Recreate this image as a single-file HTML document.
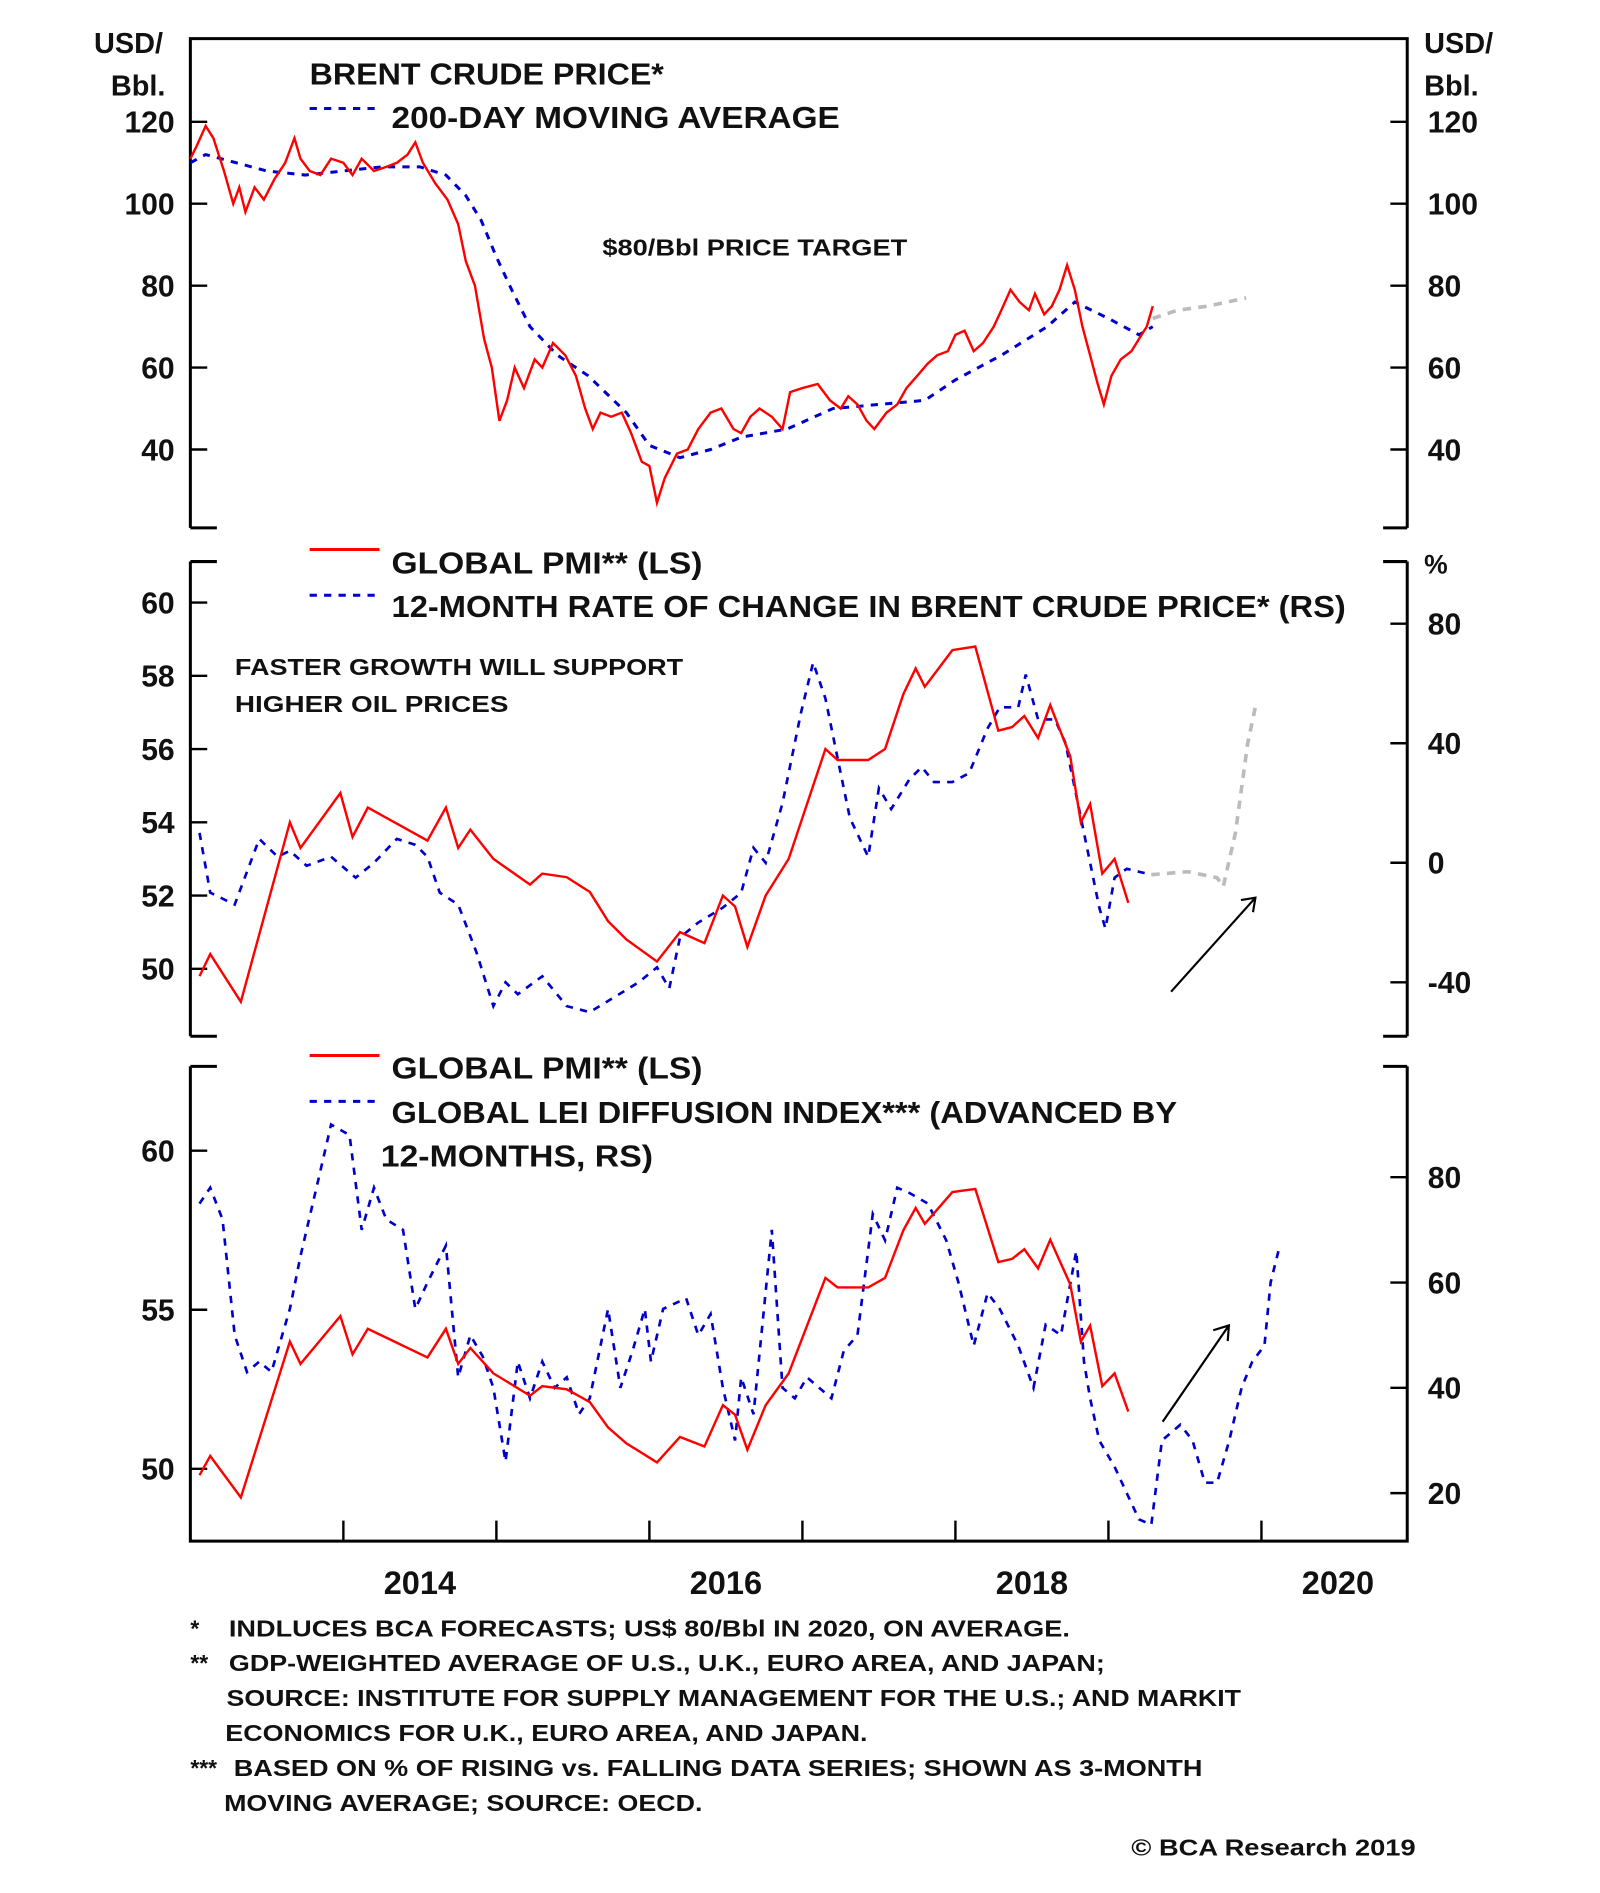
<!DOCTYPE html>
<html><head><meta charset="utf-8"><style>
html,body{margin:0;padding:0;background:#fff}
svg{display:block}
text{font-family:"Liberation Sans",Arial,sans-serif;font-weight:bold;fill:#111}
</style></head><body>
<svg id="chart" width="1600" height="1893" viewBox="0 0 1328 1571" xmlns="http://www.w3.org/2000/svg">
<g id="frames" stroke="#000" stroke-width="2.5" fill="none">
  <path d="M158 438 V32 H1168 V438" /><path d="M158 438 H180 M1168 438 H1148"/>
  <path d="M158 466 H180 M1168 466 H1148 M158 466 V860 M1168 466 V860 M158 860 H180 M1168 860 H1148"/>
  <path d="M158 885 H180 M1168 885 H1148 M158 885 V1279 H1168 V885"/>
</g>
<g id="ticks" stroke="#000" stroke-width="2"></g>
<g id="labels"></g>
<g id="series" fill="none"></g>

<text x="78" y="44" font-size="24">USD/</text>
<text x="92" y="79" font-size="24">Bbl.</text>
<text x="1182" y="44" font-size="24">USD/</text>
<text x="1182" y="79" font-size="24">Bbl.</text>
<text x="1182" y="476" font-size="22">%</text>

<g>
<text x="257" y="70" font-size="25" textLength="294" lengthAdjust="spacingAndGlyphs">BRENT CRUDE PRICE*</text>
<line x1="257" y1="90" x2="312" y2="90" stroke="#0000cc" stroke-width="2.5" stroke-dasharray="6 6"/>
<text x="325" y="106" font-size="25" textLength="372" lengthAdjust="spacingAndGlyphs">200-DAY MOVING AVERAGE</text>
</g>
<text x="500" y="212" font-size="19" textLength="253" lengthAdjust="spacingAndGlyphs">$80/Bbl PRICE TARGET</text>

<g>
<line x1="257" y1="456" x2="315" y2="456" stroke="#ff0000" stroke-width="2.5"/>
<text x="325" y="476" font-size="25" textLength="258" lengthAdjust="spacingAndGlyphs">GLOBAL PMI** (LS)</text>
<line x1="257" y1="494" x2="312" y2="494" stroke="#0000cc" stroke-width="2.5" stroke-dasharray="6 6"/>
<text x="325" y="512" font-size="25" textLength="792" lengthAdjust="spacingAndGlyphs">12-MONTH RATE OF CHANGE IN BRENT CRUDE PRICE* (RS)</text>
</g>
<text x="195" y="560" font-size="19" textLength="372" lengthAdjust="spacingAndGlyphs">FASTER GROWTH WILL SUPPORT</text>
<text x="195" y="591" font-size="19" textLength="227" lengthAdjust="spacingAndGlyphs">HIGHER OIL PRICES</text>

<g>
<line x1="257" y1="876" x2="315" y2="876" stroke="#ff0000" stroke-width="2.5"/>
<text x="325" y="895" font-size="25" textLength="258" lengthAdjust="spacingAndGlyphs">GLOBAL PMI** (LS)</text>
<line x1="257" y1="914" x2="312" y2="914" stroke="#0000cc" stroke-width="2.5" stroke-dasharray="6 6"/>
<text x="325" y="932" font-size="25" textLength="652" lengthAdjust="spacingAndGlyphs">GLOBAL LEI DIFFUSION INDEX*** (ADVANCED BY</text>
<text x="316" y="968" font-size="25" textLength="226" lengthAdjust="spacingAndGlyphs">12-MONTHS, RS)</text>
</g>

<g stroke="#000" stroke-width="1.8" fill="none">
<path d="M972 823 L1042 745 M1030 747 L1042 745 L1040 757"/>
<path d="M965 1180 L1020 1100 M1007 1104 L1020 1100 L1019 1113"/>
</g>

<g font-size="19">
<text x="158" y="1358" font-size="19">*</text>
<text x="190" y="1358" font-size="19" textLength="698" lengthAdjust="spacingAndGlyphs">INDLUCES BCA FORECASTS; US$ 80/Bbl IN 2020, ON AVERAGE.</text>
<text x="158" y="1387" font-size="19">**</text>
<text x="190" y="1387" font-size="19" textLength="727" lengthAdjust="spacingAndGlyphs">GDP-WEIGHTED AVERAGE OF U.S., U.K., EURO AREA, AND JAPAN;</text>
<text x="188" y="1416" font-size="19" textLength="842" lengthAdjust="spacingAndGlyphs">SOURCE: INSTITUTE FOR SUPPLY MANAGEMENT FOR THE U.S.; AND MARKIT</text>
<text x="187" y="1445" font-size="19" textLength="533" lengthAdjust="spacingAndGlyphs">ECONOMICS FOR U.K., EURO AREA, AND JAPAN.</text>
<text x="158" y="1474" font-size="19">***</text>
<text x="194" y="1474" font-size="19" textLength="804" lengthAdjust="spacingAndGlyphs">BASED ON % OF RISING vs. FALLING DATA SERIES; SHOWN AS 3-MONTH</text>
<text x="186" y="1503" font-size="19" textLength="397" lengthAdjust="spacingAndGlyphs">MOVING AVERAGE; SOURCE: OECD.</text>
<text x="1175" y="1540" font-size="19" text-anchor="end" textLength="236" lengthAdjust="spacingAndGlyphs">© BCA Research 2019</text>
</g>
</svg>
<script>
// ---- data ----
const brentDates=[2013.00,2013.04,2013.10,2013.15,2013.22,2013.28,2013.32,2013.36,2013.42,2013.48,2013.55,2013.62,2013.68,2013.72,2013.78,2013.85,2013.92,2014.00,2014.06,2014.12,2014.20,2014.28,2014.35,2014.42,2014.47,2014.52,2014.60,2014.68,2014.75,2014.80,2014.86,2014.92,2014.97,2015.02,2015.07,2015.12,2015.18,2015.25,2015.30,2015.37,2015.45,2015.52,2015.58,2015.63,2015.68,2015.75,2015.82,2015.88,2015.95,2016.00,2016.05,2016.10,2016.18,2016.25,2016.32,2016.40,2016.47,2016.55,2016.60,2016.66,2016.72,2016.80,2016.87,2016.92,2017.00,2017.10,2017.18,2017.25,2017.30,2017.36,2017.42,2017.47,2017.55,2017.62,2017.68,2017.75,2017.82,2017.88,2017.95,2018.00,2018.06,2018.12,2018.18,2018.25,2018.30,2018.36,2018.42,2018.48,2018.52,2018.58,2018.63,2018.68,2018.73,2018.78,2018.83,2018.88,2018.93,2018.97,2019.02,2019.08,2019.15,2019.20,2019.25,2019.29];
const brentValues=[111,114,119,116,108,100,104,98,104,101,106,110,116,111,108,107,111,110,107,111,108,109,110,112,115,110,105,101,95,86,80,67,60,47,52,60,55,62,60,66,63,58,50,45,49,48,49,44,37,36,27,33,39,40,45,49,50,45,44,48,50,48,45,54,55,56,52,50,53,51,47,45,49,51,55,58,61,63,64,68,69,64,66,70,74,79,76,74,78,73,75,79,85,79,70,63,56,51,58,62,64,67,70,75];
const maDates=[2013.00,2013.10,2013.30,2013.50,2013.75,2014.00,2014.25,2014.50,2014.67,2014.80,2014.90,2015.00,2015.10,2015.22,2015.40,2015.60,2015.85,2016.00,2016.20,2016.40,2016.60,2016.90,2017.20,2017.50,2017.80,2018.00,2018.30,2018.60,2018.78,2019.00,2019.20,2019.29];
const maValues=[110,112,110,108,107,108,109,109,107,102,96,87,79,70,63,58,49,41,38,40,43,45,50,51,52,57,63,70,76,72,68,70];
const brentFcDates=[2019.29,2019.45,2019.65,2019.90];
const brentFcValues=[72,74,75,77];
const pmiDates=[2013.06,2013.13,2013.33,2013.65,2013.72,2013.98,2014.06,2014.16,2014.55,2014.67,2014.75,2014.83,2014.98,2015.22,2015.30,2015.46,2015.61,2015.73,2015.85,2016.05,2016.20,2016.36,2016.48,2016.56,2016.64,2016.76,2016.91,2017.15,2017.23,2017.43,2017.54,2017.66,2017.74,2017.80,2017.98,2018.13,2018.28,2018.37,2018.45,2018.54,2018.62,2018.75,2018.82,2018.88,2018.96,2019.04,2019.13];
const pmiValues=[49.8,50.4,49.1,54.0,53.3,54.8,53.6,54.4,53.5,54.4,53.3,53.8,53.0,52.3,52.6,52.5,52.1,51.3,50.8,50.2,51.0,50.7,52.0,51.7,50.6,52.0,53.0,56.0,55.7,55.7,56.0,57.5,58.2,57.7,58.7,58.8,56.5,56.6,56.9,56.3,57.2,55.8,54.0,54.5,52.6,53.0,51.8];
const rocDates=[2013.06,2013.13,2013.29,2013.45,2013.57,2013.65,2013.76,2013.92,2014.08,2014.20,2014.35,2014.47,2014.55,2014.63,2014.75,2014.87,2014.98,2015.06,2015.14,2015.30,2015.46,2015.61,2015.77,2015.93,2016.05,2016.13,2016.20,2016.32,2016.48,2016.60,2016.68,2016.76,2016.87,2016.99,2017.07,2017.15,2017.23,2017.31,2017.43,2017.50,2017.58,2017.70,2017.78,2017.86,2017.98,2018.09,2018.21,2018.29,2018.41,2018.46,2018.54,2018.65,2018.72,2018.80,2018.88,2018.94,2018.98,2019.04,2019.12,2019.28];
const rocValues=[10,-10,-14,8,2,4,-1,2,-5,0,8,6,2,-10,-14,-30,-48,-40,-44,-38,-48,-50,-45,-40,-35,-42,-25,-20,-15,-10,5,0,20,50,67,55,35,15,2,25,18,28,32,27,27,30,45,52,52,63,48,48,40,20,0,-15,-22,-5,-2,-4];
const rocFcDates=[2019.28,2019.52,2019.71,2019.75,2019.83,2019.91,2019.96];
const rocFcValues=[-4,-3,-5,-8,10,40,52];
const leiDates=[2013.06,2013.13,2013.21,2013.29,2013.37,2013.45,2013.53,2013.65,2013.72,2013.84,2013.92,2014.04,2014.12,2014.20,2014.28,2014.39,2014.47,2014.55,2014.67,2014.75,2014.83,2014.91,2014.98,2015.06,2015.14,2015.22,2015.30,2015.38,2015.46,2015.54,2015.61,2015.73,2015.81,2015.89,2015.97,2016.01,2016.09,2016.24,2016.32,2016.40,2016.48,2016.56,2016.60,2016.68,2016.80,2016.87,2016.95,2017.03,2017.19,2017.27,2017.36,2017.46,2017.54,2017.62,2017.70,2017.82,2017.94,2018.02,2018.12,2018.21,2018.29,2018.41,2018.51,2018.59,2018.69,2018.79,2018.84,2018.88,2018.94,2019.04,2019.12,2019.20,2019.28,2019.35,2019.47,2019.55,2019.63,2019.71,2019.79,2019.87,2019.94,2020.02,2020.06,2020.12];
const leiValues=[75,78,72,50,43,45,43,55,65,80,90,88,70,78,72,70,55,60,67,42,50,46,40,26,45,38,45,40,42,35,38,55,40,47,55,45,55,57,50,54,40,30,42,35,70,40,38,42,38,47,50,73,68,78,77,75,68,60,48,58,55,48,40,52,50,66,45,38,30,25,20,15,14,30,33,30,22,22,30,40,45,48,60,67];
const yearLabels=["2014","2016","2018","2020"];
const yearLabelAt=[2014.5,2016.5,2018.5,2020.5];
const yearTicks=[2014,2015,2016,2017,2018,2019,2020];
const p1Ticks=[120,100,80,60,40];
const p2LTicks=[60,58,56,54,52,50];
const p2RTicks=[80,40,0,-40];
const p3LTicks=[60,55,50];
const p3RTicks=[80,60,40,20];

// ---- scales ----
const X=d=>158+(d-2013)*127;
const Y1=v=>101+(120-v)*3.4;
const Y2L=v=>500+(60-v)*30.4;
const Y2R=v=>716-v*2.48;
const Y3L=v=>955+(60-v)*26.4;
const Y3R=v=>977+(80-v)*4.37;
const NS='http://www.w3.org/2000/svg';
const ticks=document.getElementById('ticks'),labels=document.getElementById('labels'),series=document.getElementById('series');
function line(g,x1,y1,x2,y2){const l=document.createElementNS(NS,'line');l.setAttribute('x1',x1);l.setAttribute('y1',y1);l.setAttribute('x2',x2);l.setAttribute('y2',y2);


g.appendChild(l);}
function label(txt,x,y,anchor,size){const t=document.createElementNS(NS,'text');t.setAttribute('x',x);t.setAttribute('y',y);t.setAttribute('text-anchor',anchor);t.setAttribute('font-size',size);t.textContent=txt;


labels.appendChild(t);}
function leftAxis(arr,sc){arr.forEach(v=>{const y=sc(v);line(ticks,158,y,172,y);label(String(v),145,y+9,'end',25);});}
function rightAxis(arr,sc){arr.forEach(v=>{const y=sc(v);line(ticks,1154,y,1168,y);label(String(v),1185,y+9,'start',25);});}
leftAxis(p1Ticks,Y1);rightAxis(p1Ticks,Y1);
leftAxis(p2LTicks,Y2L);rightAxis(p2RTicks,Y2R);
leftAxis(p3LTicks,Y3L);rightAxis(p3RTicks,Y3R);
yearTicks.forEach(d=>line(ticks,X(d),1279,X(d),1262));
yearLabels.forEach((s,i)=>label(s,X(yearLabelAt[i]),1323,'middle',27));
function path(dates,vals,sc,color,dash,w,name){const p=document.createElementNS(NS,'path');
p.setAttribute('d',dates.map((d,i)=>(i?'L':'M')+X(d).toFixed(1)+' '+sc(vals[i]).toFixed(1)).join(' '));
p.setAttribute('stroke',color);p.setAttribute('stroke-width',w);p.setAttribute('fill','none');if(dash)p.setAttribute('stroke-dasharray',dash);


series.appendChild(p);}
path(maDates,maValues,Y1,'#0000cc','6 6',2.5,'brent-200day-ma-line');
path(brentDates,brentValues,Y1,'#ff0000','',2,'brent-price-line');
path(brentFcDates,brentFcValues,Y1,'#bbbbbb','7 6',3,'brent-forecast-line');
path(rocDates,rocValues,Y2R,'#0000cc','6 6',2.2,'brent-roc-line');
path(rocFcDates,rocFcValues,Y2R,'#bbbbbb','7 6',3,'brent-roc-forecast-line');
path(pmiDates,pmiValues,Y2L,'#ff0000','',2,'pmi-line-panel2');
path(leiDates,leiValues,Y3R,'#0000cc','6 6',2.2,'lei-diffusion-line');
path(pmiDates,pmiValues,Y3L,'#ff0000','',2,'pmi-line-panel3');
</script>
</body></html>
